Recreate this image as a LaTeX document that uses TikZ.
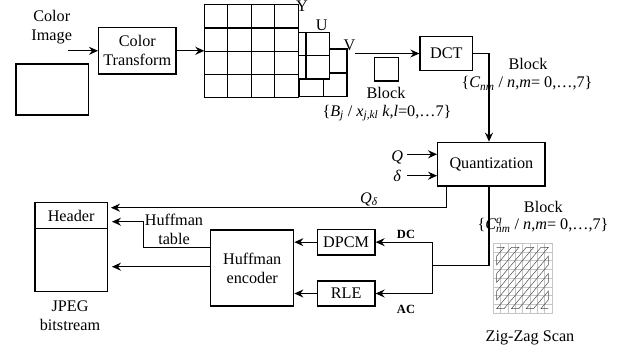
\documentclass[tikz,border=0pt]{standalone}
\usepackage{fontspec}
\setmainfont{Liberation Serif}
\usetikzlibrary{arrows.meta}
\begin{document}
\begin{tikzpicture}[x=1pt,y=-1pt,
  font=\fontsize{16.2}{19}\selectfont,
  box/.style={draw, line width=1.3pt, inner sep=0pt, align=center},
  lbl/.style={inner sep=0pt, align=center},
  small/.style={inner sep=0pt, font=\fontsize{12.5}{14}\selectfont\bfseries},
  ln/.style={line width=1.3pt},
  arr/.style={line width=1.3pt, -{Stealth[length=9pt,width=8pt,inset=3pt]}},
  gridln/.style={line width=1.3pt}]
\useasboundingbox (0,0) rectangle (639,353);

% colour image
\node[lbl] (cimg) at (51.7,27.5) {Color\\Image};
\node[box, minimum width=72.3pt, minimum height=51pt] (img) at (52.2,89.5) {};
\node[box, minimum width=77.3pt, minimum height=46.3pt] (ct) at (137.3,50.8) {Color\\Transform};
\coordinate (ciin) at (68.3,50.8);
\draw[arr] (ciin) -- (ct.west);

% V grid
\begin{scope}[shift={(299.5,49)}]
  \filldraw[gridln, fill=white] (0,0) rectangle (47.5,47.7);
  \draw[gridln] (23.75,0) -- (23.75,47.7) (0,23.85) -- (47.5,23.85);
\end{scope}
% U grid
\begin{scope}[shift={(282.5,32.3)}]
  \filldraw[gridln, fill=white] (0,0) rectangle (47,46.7);
  \draw[gridln] (23.5,0) -- (23.5,46.7) (0,23.35) -- (47,23.35);
\end{scope}
% Y grid
\begin{scope}[shift={(204.3,4.7)}]
  \filldraw[gridln, fill=white] (0,0) rectangle (94,93);
  \foreach \i in {1,2,3} {
    \draw[gridln] (23.5*\i,0) -- (23.5*\i,93);
    \draw[gridln] (0,23.25*\i) -- (94,23.25*\i);
  }
\end{scope}
\coordinate (ygrid) at (204.3,50.8);
\draw[arr] (ct.east) -- (ygrid);

\node[lbl] (ylab) at (302,6) {Y};
\node[lbl] (ulab) at (321.7,25) {U};
\node[lbl] (vlab) at (349.5,45) {V};

% DCT
\node[box, minimum width=52.7pt, minimum height=33.3pt] (dct) at (446.35,53.5) {DCT};
\coordinate (vout) at (354.5,53.5);
\draw[arr] (vout) -- (dct.west);

% block
\node[box, minimum width=24pt, minimum height=23.3pt] (blk) at (386.3,69.35) {};
\node[lbl] (blklab) at (386,92.7) {Block};
\node[lbl] (blkset) at (387,113) {\{\textit{B}\textsubscript{\textit{j}} / \textit{x}\textsubscript{\textit{j,kl}} \textit{k,l}=0,…7\}};

\node[lbl] (cblk) at (528,64.3) {Block};
\node[lbl] (cset) at (527,83.3) {\{\textit{C}\textsubscript{\textit{nm}} / \textit{n},\textit{m}= 0,…,7\}};

% Quantization
\node[box, minimum width=107.3pt, minimum height=43.7pt] (quant) at (491.35,164.15) {Quantization};
\draw[arr] (dct.east) -| ([xshift=-2.35pt]quant.north);

\node[lbl] (qlab) at (397.3,157) {\textit{Q}};
\node[lbl] (dlab) at (397.3,175.5) {\textit{δ}};
\coordinate (qin) at (407.3,154.3);
\coordinate (din) at (407.3,175.7);
\draw[arr] (qin) -- (qin -| quant.west);
\draw[arr] (din) -- (din -| quant.west);

% JPEG bitstream
\node[box, minimum width=72.3pt, minimum height=25.6pt] (hdr) at (71.15,215.5) {Header};
\node[box, minimum width=72.3pt, minimum height=63.4pt] (body) at (71.15,260) {};
\node[lbl] (jpeg) at (70,316) {JPEG\\bitstream};

% Q delta line
\coordinate (qd) at (446.7,207.7);
\draw[arr, shorten >=3pt] (quant.south -| qd) -- (qd) -- (qd -| hdr.east);
\node[lbl] (qdlab) at (369,199) {\textit{Q}\textsubscript{\textit{δ}}};

% DPCM / RLE
\node[box, minimum width=57.7pt, minimum height=25.7pt] (dpcm) at (346.15,242.15) {DPCM};
\node[box, minimum width=57.7pt, minimum height=25pt] (rle) at (346.15,293.5) {RLE};
\coordinate (br) at (432.7,265.7);
\draw[ln] ([xshift=-2.35pt]quant.south) |- (br);
\draw[arr] (br) |- (dpcm.east);
\draw[arr] (br) |- (rle.east);
\node[small] (dc) at (406,234) {DC};
\node[small] (ac) at (406,309) {AC};

\node[lbl] (qblk) at (543.3,206.7) {Block};
\node[lbl] (qset) at (543,225) {\{\textit{C}\rlap{\textsuperscript{\textit{q}}}\textsubscript{\textit{nm}} / \textit{n},\textit{m}= 0,…,7\}};

% Huffman encoder
\node[box, minimum width=83pt, minimum height=76pt] (huff) at (252.2,268) {Huffman\\encoder};
\draw[arr] (dpcm.west) -- (dpcm.west -| huff.east);
\draw[arr] (rle.west) -- (rle.west -| huff.east);

\coordinate (ht) at (143.3,247.3);
\coordinate (ht2) at (143.3,221.7);
\draw[arr, shorten >=4pt] (ht -| huff.west) -- (ht) -- (ht2) -- (ht2 -| hdr.east);
\node[lbl] (htlab) at (174,229.5) {Huffman\\table};

\coordinate (hb) at (210.7,266.7);
\draw[arr, shorten >=4pt] (hb) -- (hb -| body.east);

% zig-zag scan picture
\begin{scope}[shift={(493,243)}, xscale=7.375, yscale=8.75]
  \draw[gray!45, line width=0.5pt] (0,0) rectangle (8,8);
  \foreach \i in {1,...,7} {
    \draw[gray!45, line width=0.4pt] (\i,0) -- (\i,8);
    \draw[gray!45, line width=0.4pt] (0,\i) -- (8,\i);
  }
  \draw[gray!60!black, line width=0.5pt, shift={(0.5,0.5)}]
    (0,0) -- (1,0) -- (0,1) -- (0,2) -- (2,0) -- (3,0) -- (0,3) -- (0,4) -- (4,0) -- (5,0)
    -- (0,5) -- (0,6) -- (6,0) -- (7,0) -- (0,7) -- (1,7) -- (7,1) -- (7,2) -- (2,7) -- (3,7)
    -- (7,3) -- (7,4) -- (4,7) -- (5,7) -- (7,5) -- (7,6) -- (6,7) -- (7,7);
\end{scope}
\node[lbl] (zz) at (530,338) {Zig-Zag Scan};
\end{tikzpicture}
\end{document}
